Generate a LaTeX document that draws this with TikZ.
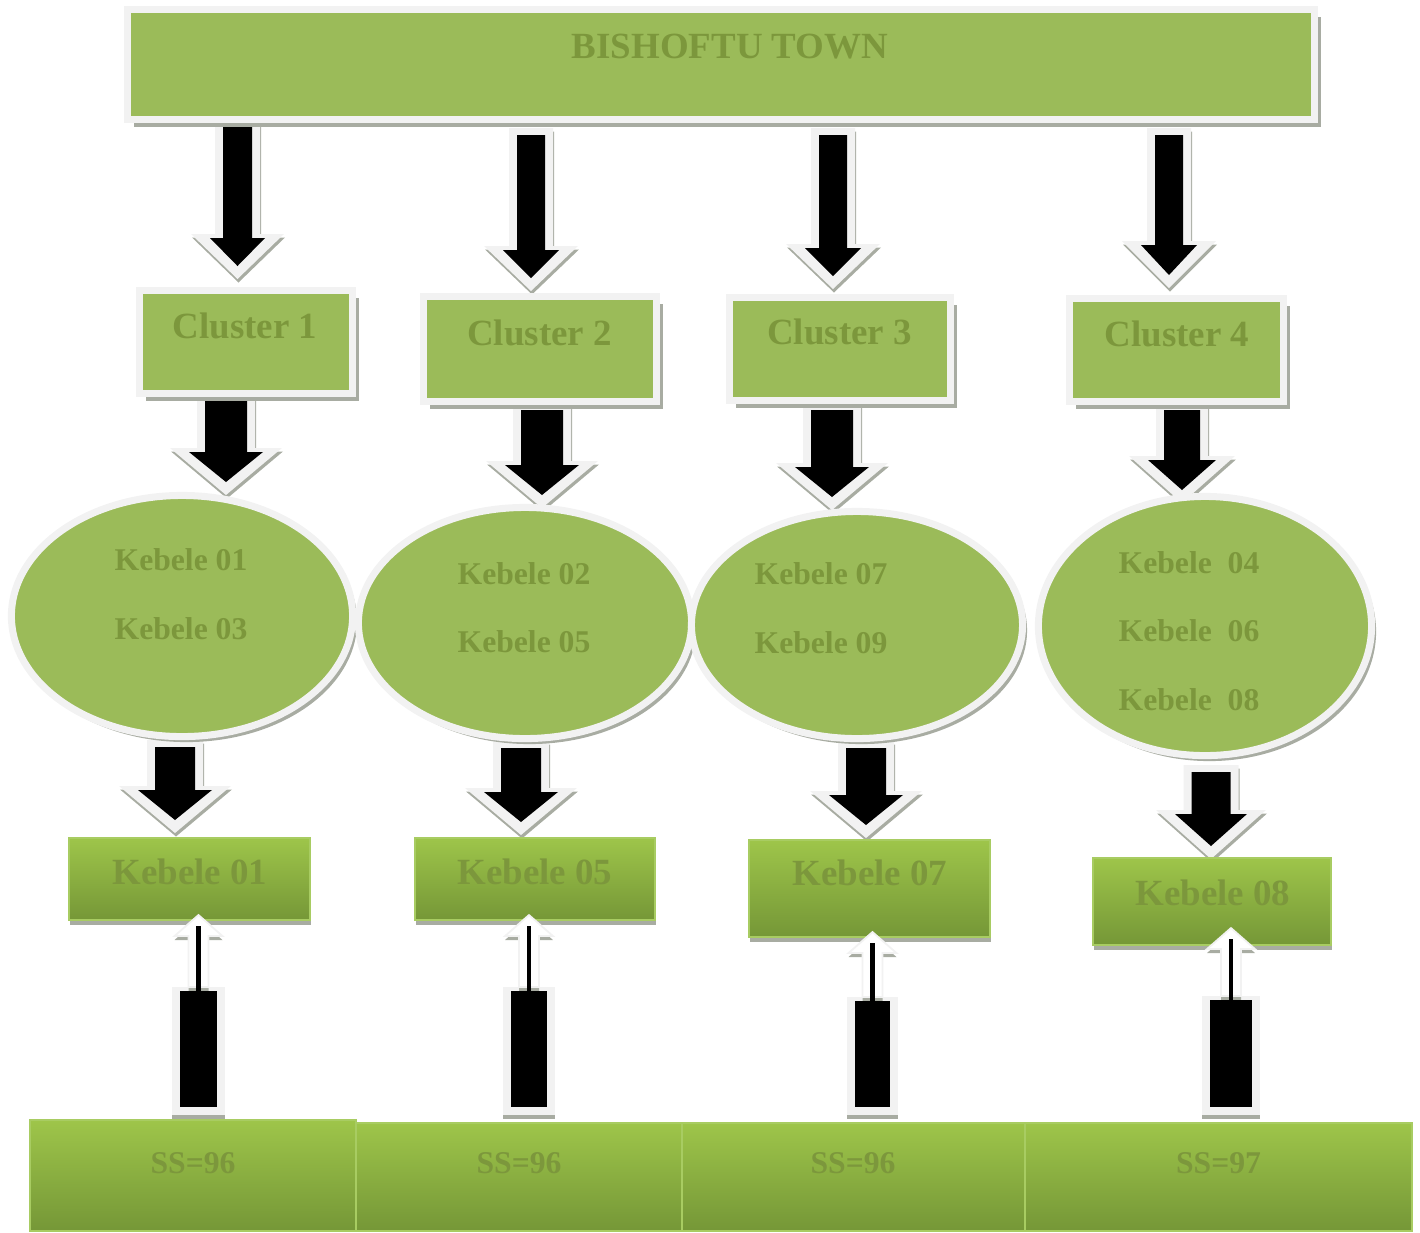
\documentclass[tikz,border=0pt]{standalone}
\usepackage{fontspec}
\setmainfont{Liberation Serif}
\usetikzlibrary{shapes.geometric,shadows}

\definecolor{olivefill}{RGB}{155,187,89}
\definecolor{olivetext}{RGB}{124,151,60}
\definecolor{rimwhite}{RGB}{242,242,242}
\definecolor{shadegray}{RGB}{168,172,162}
\definecolor{gradtop}{RGB}{158,197,74}
\definecolor{gradbot}{RGB}{117,151,55}
\definecolor{gradline}{RGB}{168,204,98}

\tikzset{
  rimbox/.style={rectangle, fill=olivefill, draw=rimwhite, line width=2pt, inner sep=0pt,
    drop shadow={shadow xshift=0.65mm, shadow yshift=-0.75mm, fill=shadegray, opacity=1}},
  rimoval/.style={ellipse, fill=olivefill, draw=rimwhite, line width=2pt, inner sep=0pt,
    drop shadow={shadow xshift=0.45mm, shadow yshift=-0.55mm, fill=shadegray, opacity=1}},
  gradbox/.style={rectangle, top color=gradtop, bottom color=gradbot, draw=gradline,
    line width=0.6pt, inner sep=0pt},
  kebbox/.style={gradbox,
    drop shadow={shadow xshift=0.1mm, shadow yshift=-0.45mm, fill=shadegray, opacity=1}},
  lbl/.style={text=olivetext, inner sep=0pt, font=\bfseries\fontsize{10.5}{12}\selectfont},
  smalllbl/.style={lbl, align=center, font=\bfseries\fontsize{9}{19.5}\selectfont}
}

% block arrow pointing down: centre x, top, neck, tip, shaft half width, head half width
\newcommand{\blkdown}[6]{%
  \fill[shadegray, xshift=0.1mm, yshift=-0.35mm]
    ({#1-#5-8},{#2-7}) -- ({#1+#5+8},{#2-7}) -- ({#1+#5+8},{#3-4}) -- ({#1+#6+19},{#3-4})
    -- (#1,{#4+13}) -- ({#1-#6-19},{#3-4}) -- ({#1-#5-8},{#3-4}) -- cycle;
  \fill[rimwhite]
    ({#1-#5-8},{#2-7}) -- ({#1+#5+8},{#2-7}) -- ({#1+#5+8},{#3-4}) -- ({#1+#6+19},{#3-4})
    -- (#1,{#4+13}) -- ({#1-#6-19},{#3-4}) -- ({#1-#5-8},{#3-4}) -- cycle;
  \fill[black]
    ({#1-#5},#2) -- ({#1+#5},#2) -- ({#1+#5},#3) -- ({#1+#6},#3)
    -- (#1,#4) -- ({#1-#6},#3) -- ({#1-#5},#3) -- cycle;
}

% arrow pointing up: centre x, top of the black bar, tip, half width of the bar
\newcommand{\blkup}[4]{%
  \fill[rimwhite] ({#1-#4-8},{#2-4}) rectangle ({#1+#4+8},1115);
  \fill[shadegray] ({#1-#4-8},1115) rectangle ({#1+#4+8},1119);
  \fill[shadegray, yshift=-0.4mm]
    ({#1-10},{#2-4}) -- ({#1-10},{#3+21}) -- ({#1-24},{#3+21}) -- (#1,#3)
    -- ({#1+24},{#3+21}) -- ({#1+10},{#3+21}) -- ({#1+10},{#2-4}) -- cycle;
  \filldraw[fill=white, draw=rimwhite, line width=0.5pt]
    ({#1-10},{#2-4}) -- ({#1-10},{#3+21}) -- ({#1-24},{#3+21}) -- (#1,#3)
    -- ({#1+24},{#3+21}) -- ({#1+10},{#3+21}) -- ({#1+10},{#2-4}) -- cycle;
  \draw[black, line width=1.3pt] (#1,#2) -- (#1,{#3+11});
  \fill[black] ({#1-#4},#2) rectangle ({#1+#4},1107);
}

\begin{document}
\begin{tikzpicture}[x=0.01cm, y=-0.01cm]
    \useasboundingbox (0,0) rectangle (1420,1232);

    % town -> clusters
    \blkdown{237.5}{125}{238}{266}{14.5}{27.5}
    \blkdown{531}{135}{250}{278}{14}{28}
    \blkdown{833}{135}{248}{276}{14}{28}
    \blkdown{1169}{135}{245}{275}{14}{28}

    % clusters -> kebeles
    \blkdown{226}{395}{452}{482}{21}{37}
    \blkdown{542}{410}{465}{495}{21}{37}
    \blkdown{832}{410}{467}{497}{21}{37}
    \blkdown{1182}{410}{460}{490}{18}{34}

    % kebeles -> chosen kebele
    \blkdown{175}{747}{790}{820}{20}{37}
    \blkdown{521}{748}{792}{822}{20}{37}
    \blkdown{866}{748}{795}{825}{20}{37}
    \blkdown{1211}{772}{814}{846}{19.5}{36}

    \node[rimbox, minimum width=11.87cm, minimum height=1.10cm] (town) at (721,64.5) {};
    \node[lbl] (towntxt) at (730,47) {BISHOFTU TOWN};

    \node[rimbox, minimum width=2.13cm, minimum height=1.03cm] (cl1) at (246,342) {};
    \node[rimbox, minimum width=2.33cm, minimum height=1.05cm] (cl2) at (540,349) {};
    \node[rimbox, minimum width=2.21cm, minimum height=1.03cm] (cl3) at (840,349) {};
    \node[rimbox, minimum width=2.14cm, minimum height=1.03cm] (cl4) at (1176.5,350) {};
    \node[lbl] (cl1txt) at (245,326) {Cluster 1};
    \node[lbl] (cl2txt) at (539.5,333) {Cluster 2};
    \node[lbl] (cl3txt) at (839.5,332) {Cluster 3};
    \node[lbl] (cl4txt) at (1177,334) {Cluster 4};

    \node[rimoval, minimum width=3.41cm, minimum height=2.41cm] (ov1) at (182,616) {};
    \node[rimoval, minimum width=3.33cm, minimum height=2.31cm] (ov2) at (525,623) {};
    \node[rimoval, minimum width=3.31cm, minimum height=2.27cm] (ov3) at (857,625) {};
    \node[rimoval, minimum width=3.33cm, minimum height=2.59cm] (ov4) at (1205,626) {};
    \node[smalllbl] (ov1txt) at (181,594) {Kebele 01\\Kebele 03};
    \node[smalllbl] (ov2txt) at (524,607.5) {Kebele 02\\Kebele 05};
    \node[smalllbl] (ov3txt) at (821,608) {Kebele 07\\Kebele 09};
    \node[smalllbl] (ov4txt) at (1189,631) {Kebele\ \ 04\\Kebele\ \ 06\\Kebele\ \ 08};

    \node[kebbox, minimum width=2.41cm, minimum height=0.82cm] (kb1) at (189.5,879) {};
    \node[kebbox, minimum width=2.40cm, minimum height=0.82cm] (kb2) at (535,879) {};
    \node[kebbox, minimum width=2.41cm, minimum height=0.97cm] (kb3) at (869.5,888.5) {};
    \node[kebbox, minimum width=2.38cm, minimum height=0.87cm] (kb4) at (1212,901.5) {};
    \node[lbl] (kb1txt) at (190,872) {Kebele 01};
    \node[lbl] (kb2txt) at (535,872) {Kebele 05};
    \node[lbl] (kb3txt) at (870,873) {Kebele 07};
    \node[lbl] (kb4txt) at (1213,893) {Kebele 08};

    \node[gradbox, minimum width=3.26cm, minimum height=1.11cm] (ss1) at (193,1175.5) {};
    \node[gradbox, minimum width=3.26cm, minimum height=1.08cm] (ss2) at (519,1177) {};
    \node[gradbox, minimum width=3.43cm, minimum height=1.08cm] (ss3) at (853.5,1177) {};
    \node[gradbox, minimum width=3.87cm, minimum height=1.08cm] (ss4) at (1218.5,1177) {};
    \node[smalllbl] (ss1txt) at (193,1163) {SS=96};
    \node[smalllbl] (ss2txt) at (519,1163) {SS=96};
    \node[smalllbl] (ss3txt) at (853,1163) {SS=96};
    \node[smalllbl] (ss4txt) at (1218.5,1163) {SS=97};

    % samples -> chosen kebele
    \blkup{198.5}{991}{915}{18.5}
    \blkup{529}{991}{915}{18}
    \blkup{872.5}{1001}{932}{17.5}
    \blkup{1231}{1000}{928}{21}
\end{tikzpicture}
\end{document}
